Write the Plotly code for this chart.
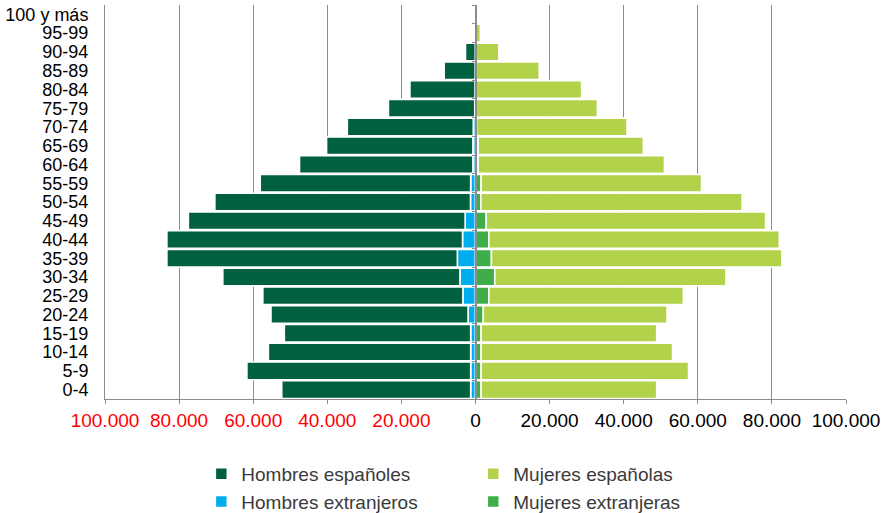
import plotly.graph_objects as go

ages = ["0-4", "5-9", "10-14", "15-19", "20-24", "25-29", "30-34", "35-39",
        "40-44", "45-49", "50-54", "55-59", "60-64", "65-69", "70-74", "75-79",
        "80-84", "85-89", "90-94", "95-99", "100 y más"]

hombres_espanoles = [51000, 60400, 54600, 50300, 53200, 54000, 64000, 78400,
                     79800, 74700, 69000, 56800, 46800, 39500, 34000, 23300,
                     17600, 8400, 2700, 300, 50]
hombres_extranjeros = [1300, 1300, 1300, 1300, 2000, 3400, 4200, 4900,
                       3500, 2800, 1350, 1300, 700, 700, 600, 200,
                       100, 50, 0, 0, 0]
mujeres_espanolas = [47400, 56000, 51700, 47400, 49600, 52500, 62400, 78400,
                     78400, 75400, 70500, 59500, 50300, 44600, 40600, 32700,
                     28500, 17100, 6250, 1300, 200]
mujeres_extranjeras = [1500, 1500, 1500, 1500, 2100, 3600, 5200, 4300,
                       3600, 2900, 1450, 1500, 700, 700, 300, 200,
                       150, 100, 50, 0, 0]

tick_values = [-100000, -80000, -60000, -40000, -20000, 0,
               20000, 40000, 60000, 80000, 100000]

def fmt(v):
    s = f"{abs(v):,}".replace(",", ".")
    if v < 0:
        return f"<span style='color:#ff0000'>{s}</span>"
    return s

tick_text = [fmt(v) for v in tick_values]

C_HE = "#00603f"
C_HX = "#00aeef"
C_ME = "#b1d249"
C_MX = "#3fae49"
GRID = "#8c8c8c"
FONT = "Liberation Sans, Arial, Helvetica, sans-serif"

line = dict(color="white", width=1.6)

fig = go.Figure()
fig.add_trace(go.Bar(y=ages, x=[-v for v in hombres_extranjeros], orientation="h",
                     name="Hombres extranjeros", marker=dict(color=C_HX, line=line),
                     legend="legend", legendrank=2))
fig.add_trace(go.Bar(y=ages, x=[-v for v in hombres_espanoles], orientation="h",
                     name="Hombres españoles", marker=dict(color=C_HE, line=line),
                     legend="legend", legendrank=1))
fig.add_trace(go.Bar(y=ages, x=mujeres_extranjeras, orientation="h",
                     name="Mujeres extranjeras", marker=dict(color=C_MX, line=line),
                     legend="legend2", legendrank=2))
fig.add_trace(go.Bar(y=ages, x=mujeres_espanolas, orientation="h",
                     name="Mujeres españolas", marker=dict(color=C_ME, line=line),
                     legend="legend2", legendrank=1))

n = len(ages)
fig.update_layout(
    width=881, height=513,
    margin=dict(l=105, r=35, t=5, b=114, autoexpand=False),
    paper_bgcolor="white", plot_bgcolor="white",
    barmode="relative", bargap=0.06,
    font=dict(family=FONT, color="black"),
    xaxis=dict(range=[-100000, 100000], tickvals=tick_values, ticktext=tick_text,
               showgrid=True, gridcolor=GRID, gridwidth=1, zeroline=False,
               showline=True, linecolor=GRID, linewidth=1, automargin=False,
               ticks="outside", ticklen=4, tickcolor=GRID,
               tickfont=dict(size=19, color="black"), ticklabelstandoff=0),
    yaxis=dict(type="category", categoryorder="array", categoryarray=ages,
               tickmode="array", tickvals=ages, ticktext=ages, automargin=False,
               range=[-0.5, n - 0.5], showgrid=False, showline=True,
               linecolor=GRID, linewidth=1, ticks="",
               tickfont=dict(size=18, color="black"), ticklabelstandoff=12),
    yaxis2=dict(overlaying="y", anchor="free", position=0.5, side="left",
                range=[-0.5, n - 0.5], tickvals=[i - 0.5 for i in range(n + 1)],
                showticklabels=False, ticks="outside", ticklen=3, tickcolor=GRID,
                tickwidth=1, showline=True, linecolor=GRID, linewidth=1.5,
                showgrid=False, zeroline=False, automargin=False),
    legend=dict(x=0.13, y=-0.142, xanchor="left", yanchor="top",
                orientation="v", font=dict(size=19, color="#3a3a3a"),
                bgcolor="rgba(0,0,0,0)", borderwidth=0),
    legend2=dict(x=0.497, y=-0.142, xanchor="left", yanchor="top",
                 orientation="v", font=dict(size=19, color="#3a3a3a"),
                 bgcolor="rgba(0,0,0,0)", borderwidth=0),
)
# invisible trace so yaxis2 is drawn
fig.add_trace(go.Scatter(x=[0], y=[0], yaxis="y2", mode="markers",
                         marker=dict(opacity=0), showlegend=False, hoverinfo="skip"))

fig.write_html("out.html", config={"displayModeBar": False},
               post_script="document.body.style.margin='0';document.body.style.padding='0';")
